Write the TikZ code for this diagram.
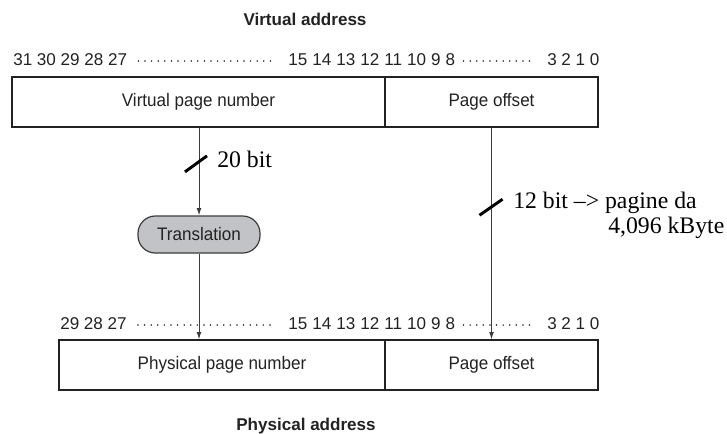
\documentclass[tikz,border=0pt]{standalone}
\usepackage{fontspec}
\setmainfont{Liberation Serif}
\setsansfont{Liberation Sans}
\newfontfamily\fieldfont{Liberation Sans}[FakeStretch=0.94]
\usetikzlibrary{arrows.meta}

\definecolor{ink}{HTML}{222222}
\definecolor{wire}{HTML}{3C3C3C}
\definecolor{pillgray}{HTML}{C2C3C7}

\tikzset{
  lbl/.style={font=\sffamily\fontsize{12.8}{15}\selectfont, text=ink, inner sep=0pt},
  flbl/.style={font=\fieldfont\fontsize{13.6}{15}\selectfont, text=ink, inner sep=0pt},
  ttl/.style={font=\sffamily\bfseries\fontsize{12.8}{15}\selectfont, text=ink, inner sep=0pt},
  bitno/.style={lbl, anchor=base west},
  field/.style={flbl, draw=ink, line width=0.9pt, minimum height=37.5pt},
  pill/.style={flbl, draw=wire, fill=pillgray, line width=0.9pt, rounded corners=13pt,
               minimum width=91.5pt, minimum height=27.75pt},
  conn/.style={draw=wire, line width=0.7pt, -{Latex[length=5.5pt,width=3.6pt]}},
  slash/.style={line width=2.2pt, black},
  leader/.style={ink, line width=1.3pt, line cap=round, dash pattern=on 0pt off 4.95pt},
  note/.style={font=\rmfamily\fontsize{17.8}{18.75}\selectfont, anchor=base west, inner sep=0pt},
}

\begin{document}
\begin{tikzpicture}[x=0.75pt,y=-0.75pt]
\useasboundingbox (0,0) rectangle (727,433);

% titles
\node[ttl, anchor=base] (va) at (305,25) {Virtual address};
\node[ttl, anchor=base] (pa) at (306,430) {Physical address};

% bit numbers of the virtual address
\node[bitno] (vhi)  at (13,65)  {31 30 29 28 27};
\node[bitno] (vmid) at (288,65) {\makebox[125.25pt][s]{15 14 13 12 11 10 9 8}};
\node[bitno] (vlo)  at (547,65) {3 2 1 0};
\draw[leader] ([shift={(11,-4)}]vhi.base east) -- ([shift={(-13,-4)}]vmid.base west);
\draw[leader] ([shift={(8,-4)}]vmid.base east) -- ([shift={(-16,-4)}]vlo.base west);

% bit numbers of the physical address
\node[bitno] (phi)  at (60,329)  {29 28 27};
\node[bitno] (pmid) at (288,329) {\makebox[125.25pt][s]{15 14 13 12 11 10 9 8}};
\node[bitno] (plo)  at (547,329) {3 2 1 0};
\draw[leader] ([shift={(11,-4)}]phi.base east) -- ([shift={(-13,-4)}]pmid.base west);
\draw[leader] ([shift={(8,-4)}]pmid.base east) -- ([shift={(-16,-4)}]plo.base west);

% address fields
\node[field, minimum width=279.75pt] (vpn) at (198.5,102) {Virtual page number};
\node[field, minimum width=159.75pt] (vpo) at (491.5,102) {Page offset};
\node[field, minimum width=244.5pt]  (ppn) at (222,365)   {Physical page number};
\node[field, minimum width=159.75pt] (ppo) at (491.5,365) {Page offset};

% translation step
\node[pill] (tr) at (199,234.5) {Translation};

% data paths
\draw[conn] (tr.north |- vpn.south) -- (tr.north);
\draw[conn] (tr.south) -- (tr.south |- ppn.north);
\draw[conn] (vpo.south) -- (ppo.north);

% bus-width marks
\path (tr.north |- vpn.south) -- (tr.north) coordinate[pos=0.39] (s20);
\path (vpo.south) -- (ppo.north) coordinate[pos=0.376] (s12);
\draw[slash] ([shift={(-14,10)}]s20) -- ([shift={(8,-6)}]s20);
\draw[slash] ([shift={(-12,8)}]s12) -- ([shift={(11,-8)}]s12);

\node[note] (n20) at (217,167) {20 bit};
\node[note] (n12) at (513,208) {12 bit –> pagine da};
\node[note] (nkb) at (608,233) {4,096 kByte};
\end{tikzpicture}
\end{document}
